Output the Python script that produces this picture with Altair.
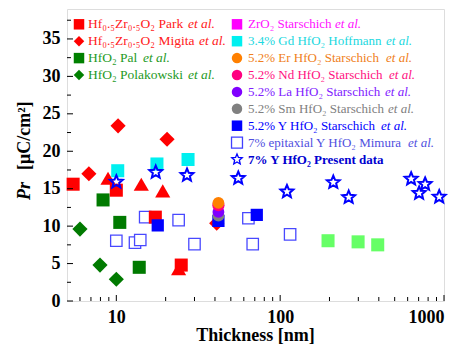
import math
import altair as alt
import pandas as pd

# ---------------- data (thickness nm, Pr uC/cm2) ----------------
park_t = [5.45, 10, 17.3, 24.9]
park_pr = [15.6, 14.8, 11.2, 4.8]
migita_t = [6.8, 10.25, 20.4, 41]
migita_pr = [17.0, 23.4, 21.6, 10.4]
tri_t = [8.9, 14.2, 19.2, 24.0]
tri_pr = [16.4, 15.6, 14.7, 4.3]
pal_t = [8.3, 10.5, 13.8]
pal_pr = [13.5, 10.5, 4.5]
pola_t = [6.0, 7.95, 10]
pola_pr = [9.6, 4.8, 2.9]
lg_t = [196, 299, 394]
lg_pr = [8.05, 7.9, 7.5]
gd_t = [10.2, 17.7, 27.4]
gd_pr = [17.4, 18.3, 18.9]
y52_t = [17.9, 42, 72]
y52_pr = [10.1, 10.7, 11.5]
sm_t, sm_pr = [42], [11.4]
la_t, la_pr = [42], [11.9]
nd_t, nd_pr = [42], [12.8]
er_t, er_pr = [42], [13.1]
mimura_t = [10, 13, 14, 15, 24, 30, 64, 68, 115]
mimura_pr = [8.05, 7.8, 8.15, 11.2, 10.8, 7.6, 11.05, 7.6, 8.9]
present_t = [10, 17.4, 27, 55.5, 110, 211, 262, 630, 705, 767, 935]
present_pr = [15.9, 17.2, 16.8, 16.4, 14.6, 15.85, 13.85, 16.3, 14.4, 15.6, 13.9]

x_ticks = [10, 100, 1000]
x_minor = [6, 7, 8, 9, 20, 30, 40, 50, 60, 70, 80, 90, 200, 300, 400, 500, 600, 700, 800, 900]
y_ticks = [0, 5, 10, 15, 20, 25, 30, 35]
y_minor = [2.5, 7.5, 12.5, 17.5, 22.5, 27.5, 32.5, 37.5]

# legend
leg_main = ["Hf\u2080.\u2085Zr\u2080.\u2085O\u2082 Park", "Hf\u2080.\u2085Zr\u2080.\u2085O\u2082 Migita",
            "HfO\u2082 Pal", "HfO\u2082 Polakowski",
            "ZrO\u2082 Starschich", "3.4% Gd HfO\u2082 Hoffmann", "5.2% Er  HfO\u2082 Starschich",
            "5.2% Nd HfO\u2082 Starschich", "5.2% La HfO\u2082 Starschich", "5.2% Sm  HfO\u2082 Starschich",
            "5.2% Y HfO\u2082 Starschich", "7% epitaxial  Y HfO\u2082 Mimura", "7% Y HfO\u2082 Present data"]
leg_etal_x = [121, 132, 76, 121, 268, 319, 319, 322, 318, 321, 314, 341, None]
leg_col = [0, 0, 0, 0, 1, 1, 1, 1, 1, 1, 1, 1, 1]
leg_row = [0, 1, 2, 3, 0, 1, 2, 3, 4, 5, 6, 7, 8]
leg_sym_col = ["#ff0000", "#ff0000", "#008000", "#008000", "#ff00ff", "#00f0f0", "#ff8000",
               "#ff0080", "#8000ff", "#808080", "#0000ff", "#4040ff", "#0000ff"]
leg_txt_col = ["#ff2020", "#ff2020", "#1e9a1e", "#1e9a1e", "#ff10ff", "#20d8e0", "#f08020",
               "#ff1080", "#8020ff", "#808080", "#0000ff", "#5050e0", "#0000d0"]
leg_shape = ["square", "diamond", "square", "diamond", "square", "square", "circle", "circle",
             "circle", "circle", "square", "square", "star"]
leg_filled = [True] * 11 + [False, False]

W, H = 377, 292
FONT = "Liberation Serif"
col_fs = [13.5, 13]

# five-pointed star symbol path (unit coordinates)
_pts = []
for k in range(10):
    r = 1.0 if k % 2 == 0 else 0.45
    a = math.radians(-90 + 36 * k)
    _pts.append(f"{r * math.cos(a):.3f},{r * math.sin(a):.3f}")
STAR = "M" + "L".join(_pts) + "Z"


def shp(s):
    return STAR if s == "star" else s


xs = alt.Scale(type="log", domain=[5, 1000], nice=False)
ys = alt.Scale(domain=[0, 39], nice=False, zero=False)
x_axis = alt.Axis(values=x_ticks, format="d", title=None, orient="bottom",
                  grid=False, ticks=False, tickSize=0, domain=False,
                  labelFont=FONT, labelFontSize=18, labelFontWeight="bold",
                  labelColor="black", labelPadding=7)
y_axis = alt.Axis(values=y_ticks, title=None, orient="left", grid=False, ticks=False,
                  tickSize=0, domain=False, labelFont=FONT, labelFontSize=18,
                  labelFontWeight="bold", labelColor="black", labelPadding=7)


def pts(t, pr):
    return pd.DataFrame({"t": t, "pr": pr})


def enc(ch):
    return ch.encode(x=alt.X("t:Q", scale=xs, axis=x_axis), y=alt.Y("pr:Q", scale=ys, axis=y_axis))


layers = []


def add(t, pr, shape, color, size, filled=True, sw=1.0, fill=None):
    kw = dict(shape=shp(shape), size=size, opacity=1)
    if filled:
        kw.update(filled=True, color=color)
    else:
        kw.update(filled=False, color=color, strokeWidth=sw)
        if fill is not None:
            kw.update(fill=fill, fillOpacity=1)
    layers.append(enc(alt.Chart(pts(t, pr)).mark_point(**kw)))


add(lg_t, lg_pr, "square", "#66ff66", 170)
add(pola_t, pola_pr, "diamond", "#007a00", 230)
add(pal_t, pal_pr, "square", "#007a00", 170)
add(mimura_t, mimura_pr, "square", "#4848ff", 130, filled=False, sw=1.3, fill="white")
add(gd_t, gd_pr, "square", "#00f0f0", 170)
add(tri_t, tri_pr, "triangle-up", "#ff0000", 230)
add(migita_t, migita_pr, "diamond", "#ff0000", 230)
add(park_t, park_pr, "square", "#ff0000", 170)
add(y52_t, y52_pr, "square", "#0000ff", 150)
add(sm_t, sm_pr, "circle", "#808080", 140)
add(la_t, la_pr, "circle", "#8000ff", 140)
add(nd_t, nd_pr, "circle", "#ff0080", 150)
add(er_t, er_pr, "circle", "#ff8000", 140)
add(present_t, present_pr, "star", "#0000ff", 180, filled=False, sw=2)

# inward ticks
ticks = [
    alt.Chart(pd.DataFrame({"pr": y_ticks})).mark_rule(color="black", strokeWidth=1).encode(
        y=alt.Y("pr:Q", scale=ys, axis=y_axis), x=alt.value(0), x2=alt.value(6)),
    alt.Chart(pd.DataFrame({"pr": y_minor})).mark_rule(color="black", strokeWidth=1).encode(
        y=alt.Y("pr:Q", scale=ys, axis=y_axis), x=alt.value(0), x2=alt.value(4)),
    alt.Chart(pd.DataFrame({"t": x_ticks})).mark_rule(color="black", strokeWidth=1).encode(
        x=alt.X("t:Q", scale=xs, axis=x_axis), y=alt.value(H), y2=alt.value(H - 6)),
    alt.Chart(pd.DataFrame({"t": x_minor})).mark_rule(color="black", strokeWidth=1).encode(
        x=alt.X("t:Q", scale=xs, axis=x_axis), y=alt.value(H), y2=alt.value(H - 4)),
]

# legend: one small layer per entry, pixel positions inside the plot area
col_sym_x = [12, 170]
col_txt_x = [21, 181]
leg_layers = []
for i, label in enumerate(leg_main):
    ly = 15.3 + 16.9 * leg_row[i]
    row = pd.DataFrame({"lab": [label], "etal": ["et al."]})
    c = leg_col[i]
    fs = col_fs[c]
    if leg_filled[i]:
        sym = alt.Chart(row).mark_point(shape=shp(leg_shape[i]), filled=True, size=110, opacity=1,
                                        color=leg_sym_col[i])
    else:
        sym = alt.Chart(row).mark_point(shape=shp(leg_shape[i]), filled=False, size=120, opacity=1,
                                        color=leg_sym_col[i], strokeWidth=1.3)
    leg_layers.append(sym.encode(x=alt.value(col_sym_x[c]), y=alt.value(ly)))
    is_bold = leg_etal_x[i] is None
    txt = alt.Chart(row).mark_text(align="left", baseline="middle", font=FONT, fontSize=fs,
                                   fontWeight="bold" if is_bold else "normal", color=leg_txt_col[i])
    leg_layers.append(txt.encode(x=alt.value(col_txt_x[c]), y=alt.value(ly), text="lab:N"))
    if not is_bold:
        et = alt.Chart(row).mark_text(align="left", baseline="middle", font=FONT, fontSize=fs,
                                      fontStyle="italic", color=leg_txt_col[i])
        leg_layers.append(et.encode(x=alt.value(leg_etal_x[i]), y=alt.value(ly), text="etal:N"))

# axis titles (y title with italic Pr)
titles = [
    alt.Chart(pd.DataFrame({"txt": ["Thickness [nm]"]})).mark_text(
        align="center", baseline="middle", font=FONT, fontSize=18, fontWeight="bold",
        color="black").encode(x=alt.value(W / 2), y=alt.value(H + 35), text="txt:N"),
    alt.Chart(pd.DataFrame({"txt": ["Pr"]})).mark_text(
        angle=270, align="left", baseline="middle", font=FONT, fontSize=18,
        fontWeight="bold", fontStyle="italic", color="black").encode(
        x=alt.value(-42), y=alt.value(191), text="txt:N"),
    alt.Chart(pd.DataFrame({"txt": ["[\u03bcC/cm\u00b2]"]})).mark_text(
        angle=270, align="left", baseline="middle", font=FONT, fontSize=18,
        fontWeight="bold", color="black").encode(
        x=alt.value(-42), y=alt.value(161), text="txt:N"),
]

chart = alt.layer(*layers, *ticks, *leg_layers, *titles).properties(
    width=W, height=H,
    autosize=alt.AutoSizeParams(type="none"),
    padding={"left": 59, "top": 1, "right": 18, "bottom": 45},
).configure_view(stroke="black", strokeWidth=1).configure(background="white")

chart.save("out.html", embed_options={"renderer": "svg", "actions": False})
